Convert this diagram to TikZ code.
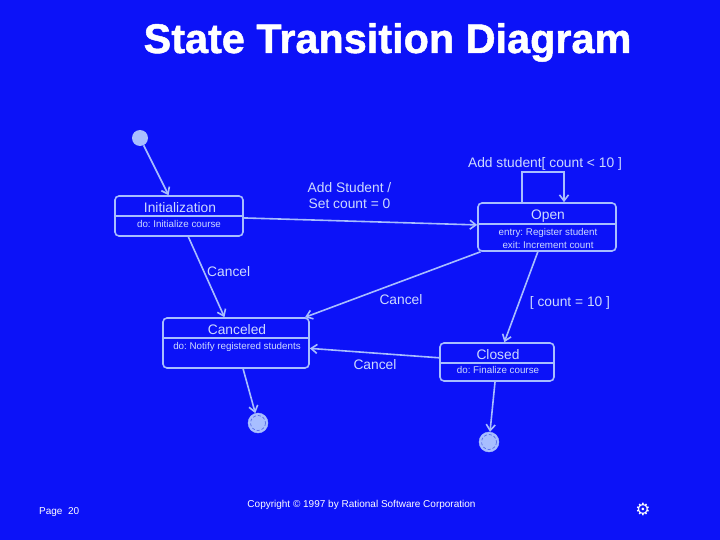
\documentclass[tikz,border=0pt]{standalone}
\usepackage{fontspec}
\setmainfont{Liberation Sans}
\newfontfamily\symfont{DejaVu Sans}
\newfontfamily\titlefont[FakeBold=1.2]{Liberation Sans Bold}
\usetikzlibrary{arrows.meta}
\definecolor{bg}{RGB}{12,18,248}
\definecolor{ln}{RGB}{168,190,255}
\definecolor{tx}{RGB}{205,218,255}
\definecolor{ring}{RGB}{80,100,230}
\frenchspacing
\begin{document}
\begin{tikzpicture}[x=1pt,y=-1pt,
  statebox/.style={draw=ln, line width=1.6pt, rounded corners=4pt, inner sep=0pt, fill=none},
  divider/.style={draw=ln, line width=1.4pt},
  tr/.style={draw=ln, line width=1.6pt, -{Straight Barb[length=6pt,width=9pt]}},
  lbl/.style={text=tx, font=\fontsize{13.8}{15}\selectfont, inner sep=0pt, anchor=base},
  act/.style={text=tx, font=\fontsize{9.8}{11}\selectfont, inner sep=0pt, anchor=base},
  startdot/.style={circle, fill=ln, minimum size=16pt, inner sep=0pt},
  enddot/.style={circle, fill=ln, draw=ln, minimum size=20pt, inner sep=0pt},
  foot/.style={text=white, inner sep=0pt, anchor=base}]
\fill[bg] (0,0) rectangle (720,540);
\useasboundingbox (0,0) rectangle (720,540);

% title
\node[text=white, font=\titlefont\fontsize{41.4}{45}\selectfont, inner sep=0pt, anchor=base] (title) at (387.5,53) {State Transition Diagram};

% states
\node[statebox, minimum width=128pt, minimum height=40pt] (init) at (179,216) {};
\draw[divider] (init.west) -- (init.east);
\node[lbl] (initT) at (180,212.5) {Initialization};
\node[act] (initA) at (179,227.5) {do: Initialize course};

\node[statebox, minimum width=138pt, minimum height=48pt] (open) at (547,227) {};
\draw[divider] ([yshift=3pt]open.west) -- ([yshift=3pt]open.east);
\node[lbl] (openT) at (548,220) {Open};
\node[act] (openA) at (548,235.5) {entry: Register student};
\node[act] (openB) at (548,248) {exit: Increment count};

\node[statebox, minimum width=146pt, minimum height=50pt] (canc) at (236,343) {};
\draw[divider] ([yshift=5pt]canc.west) -- ([yshift=5pt]canc.east);
\node[lbl] (cancT) at (237,334) {Canceled};
\node[act] (cancA) at (237,349.5) {do: Notify registered students};

\node[statebox, minimum width=114pt, minimum height=38pt] (clos) at (497,362) {};
\draw[divider] ([yshift=-1pt]clos.west) -- ([yshift=-1pt]clos.east);
\node[lbl] (closT) at (498,359) {Closed};
\node[act] (closA) at (498,373.5) {do: Finalize course};

% pseudo states
\node[startdot] (start) at (140,138) {};
\node[enddot] (end1) at (258,423) {};
\draw[ring, line width=0.6pt, densely dashed] (end1) circle (7.5);
\node[enddot] (end2) at (489,442) {};
\draw[ring, line width=0.6pt, densely dashed] (end2) circle (7.5);

% transitions
\draw[tr] (start) -- (init);
\draw[tr] (init) -- (open);
\draw[tr] (init) -- (canc);
\draw[tr] (open) -- (canc);
\draw[tr] (clos) -- (canc);
\draw[tr] (open) -- (clos);
\draw[tr] (canc) -- (end1);
\draw[tr] (clos) -- (end2);
\draw[tr] ([xshift=-25pt]open.north) -- ++(0,-30) -| ([xshift=17pt]open.north);

% transition labels
\node[lbl] (lAdd) at (545,168) {Add student[ count {<} 10 ]};
\node[lbl] (lSet1) at (349.5,193) {Add Student /};
\node[lbl] (lSet2) at (349.5,208.5) {Set count = 0};
\node[lbl, anchor=base west] (lC1) at (207,276) {Cancel};
\node[lbl] (lC2) at (401,304) {Cancel};
\node[lbl] (lC3) at (375,369) {Cancel};
\node[lbl] (lCnt) at (570,306) {[ count = 10 ]};

% footer
\node[foot, font=\fontsize{10}{12}\selectfont, anchor=base west] (page) at (39,514) {Page\ \ 20};
\node[foot, font=\fontsize{10}{12}\selectfont] (copy) at (361.5,507) {Copyright © 1997 by Rational Software Corporation};
\node[text=white, font=\symfont\fontsize{17}{18}\selectfont, inner sep=0pt] (gear) at (643,509) {⚙};
\end{tikzpicture}
\end{document}
